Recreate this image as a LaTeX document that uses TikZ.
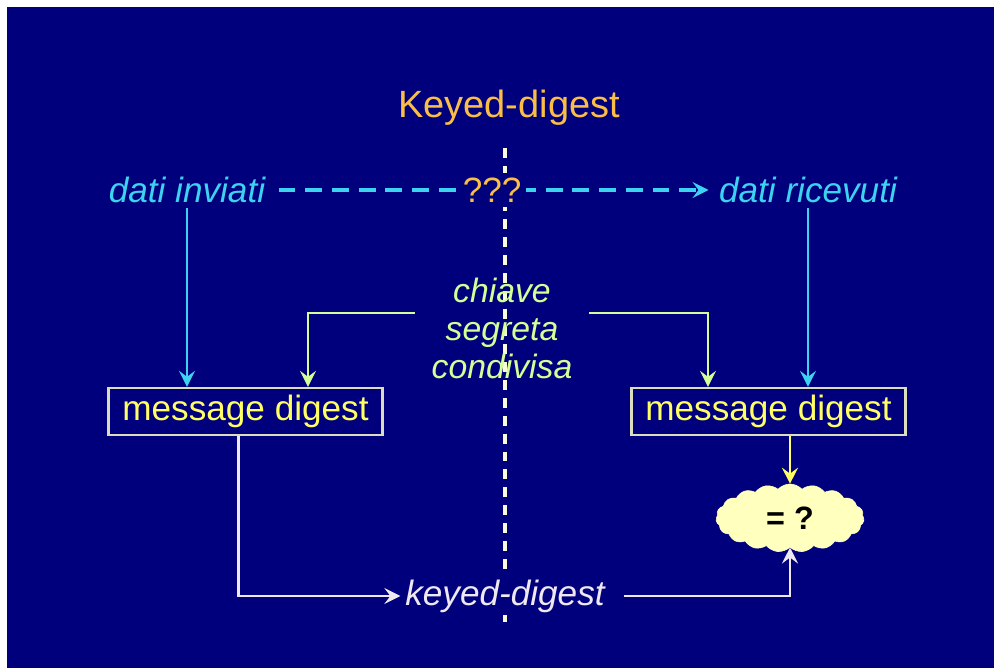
\documentclass[tikz,border=0pt]{standalone}
\usepackage{fontspec}
\setmainfont{Liberation Sans}
\usetikzlibrary{arrows.meta, positioning, shapes.symbols, calc}
\definecolor{slidenavy}{RGB}{0, 0, 125}
\definecolor{titleorange}{RGB}{250, 190, 70}
\definecolor{datacyan}{RGB}{60, 210, 240}
\definecolor{keygreen}{RGB}{210, 255, 150}
\definecolor{mdyellow}{RGB}{255, 255, 100}
\definecolor{boxedge}{RGB}{220, 220, 190}
\definecolor{cloudfill}{RGB}{255, 255, 190}
\definecolor{outwhite}{RGB}{240, 232, 240}
\definecolor{splitline}{RGB}{250, 250, 220}

\begin{document}
\begin{tikzpicture}[
    x=0.025cm, y=-0.025cm,
    lbl/.style={font=\fontsize{25}{30}\selectfont\itshape},
    mdbox/.style={draw=boxedge, line width=1.5pt, text=mdyellow, font=\fontsize{25}{30}\selectfont,
      minimum width=6.85cm, minimum height=1.18cm, inner sep=0pt},
    arr/.style={-{Stealth[length=4mm, width=4mm, inset=1.5mm]}, line width=2.1pt}
  ]
    % slide background
    \fill[white] (0,0) rectangle (994,668);
    \fill[slidenavy] (7,7) rectangle (994,668);
    \useasboundingbox (0,0) rectangle (994,668);

    % sender / receiver split
    \coordinate (vtop) at (505,148);
    \coordinate (vbot) at (505,628);
    \draw[splitline, line width=2.2pt, dash pattern=on 7pt off 5.7pt] (vtop) -- (vbot);

    \node[font=\fontsize{27}{32}\selectfont, text=titleorange] (title) at (509,108) {Keyed-digest};

    \node[lbl, text=datacyan] (inv) at (187,190) {dati inviati};
    \node[lbl, text=datacyan] (ric) at (808,190) {dati ricevuti};
    \draw[arr, datacyan, line width=2.6pt, dash pattern=on 12pt off 7pt, shorten <=6pt, shorten >=4pt] (inv) --
      node[fill=slidenavy, text=titleorange, font=\fontsize{25}{30}\selectfont, inner xsep=3pt] (qqq) {???} (ric);

    \node[lbl, text=keygreen, align=center, font=\fontsize{24}{27}\selectfont\itshape,
      minimum width=4.35cm] (key) at (502,328) {chiave\\segreta\\condivisa};

    \node[mdbox] (mdl) at (245.5,411.5) {message digest};
    \node[mdbox] (mdr) at (768.5,411.5) {message digest};

    \node[cloud, cloud puffs=19, cloud puff arc=95, aspect=2.3, fill=cloudfill, draw=cloudfill,
      minimum width=3.7cm, minimum height=1.7cm, inner sep=0pt,
      font=\fontsize{23}{28}\selectfont\bfseries] (cmp) at (790,518) {= ?};

    \node[lbl, text=outwhite, fill=slidenavy, inner ysep=2pt] (kd) at (505,596) {keyed-digest};

    \draw[arr, datacyan] (inv.south) -- (inv.south |- mdl.north);
    \draw[arr, datacyan] (ric.south) -- (ric.south |- mdr.north);

    \draw[arr, keygreen] ($(key.west)+(0,-15)$) -| ($(mdl.north)+(62.5,0)$);
    \draw[arr, keygreen] ($(key.east)+(0,-15)$) -| ($(mdr.north)+(-60.5,0)$);

    \draw[arr, mdyellow] (cmp.north |- mdr.south) -- (cmp.north);

    \draw[arr, outwhite] ($(mdl.south)+(-7,0)$) |- (kd.west);
    \draw[arr, outwhite, shorten <=10pt] (kd.east) -| (cmp.south);
\end{tikzpicture}
\end{document}
